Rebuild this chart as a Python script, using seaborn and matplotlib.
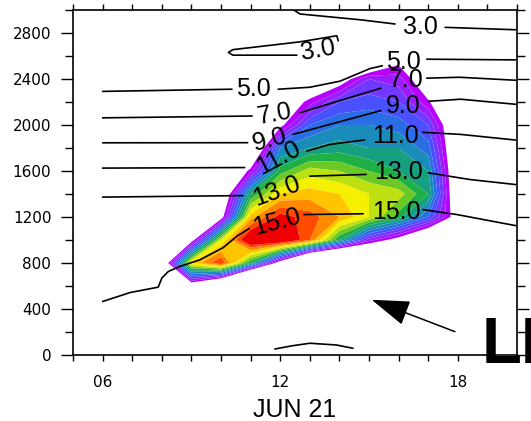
import numpy as np
import pandas as pd
import matplotlib
matplotlib.use('Agg')
import matplotlib.pyplot as plt
from matplotlib.ticker import MultipleLocator, FixedLocator
import seaborn as sns

# ---------------- data ----------------
# shaded field (tracer) on a coarse grid
fill_hours = [8, 9, 10, 11, 12, 13, 14, 15, 16, 17, 18]
fill_heights = [400, 600, 800, 1000, 1200, 1400, 1600, 1800, 2000, 2200, 2400, 2600, 2800]
# rows listed from the top (2800 m) down to 400 m
tracer_rows = [
    [0, 0, 0, 0, 0, 0, 0, 0, 0, 0, 0],                          # 2800
    [0, 0, 0, 0, 0, 0, 0, -4.3, 0, 0, 0],                       # 2600
    [0, 0, 0, 0, 0, -2, -0.3, 3, 2.5, -1, 0],                   # 2400
    [0, 0, 0, 0, -1, 1.5, 4, 4.5, 4, 1.2, -2],                  # 2200
    [0, 0, 0, -2, 0.4, 5, 6, 6, 5.5, 4, -2],                    # 2000
    [0, 0, -2, -3, 6, 7, 7.5, 7, 7, 5.5, -2],                   # 1800
    [0, 0, -3, 1.5, 8.5, 10.5, 10, 9, 8, 7, -1.8],              # 1600
    [0, 0, -2, 8, 12, 12.5, 12, 11, 10.5, 8, -1.7],             # 1400
    [0, -1, 0, 12.5, 15.5, 14.5, 13, 11, 8.5, 5, -0.3],         # 1200
    [-1, 0, 11, 17, 17, 14, 8, 2.5, 0, -3.4, 0],                # 1000
    [-2, 12, 15, 8, -0.5, -9.4, -11, -7.5, -3, -2, 0],          # 800
    [0, -1, -6, -16, -10, -5, -3, -2, 0, 0, 0],                 # 600
    [0, 0, 0, 0, 0, 0, 0, 0, 0, 0, 0],                          # 400
]
fill_levels = list(range(1, 16)) + [40]
fill_colors = ['#b800ff', '#9a1cff', '#7238ff', '#4a50ff', '#2a6ee6', '#1a8cba',
               '#16a080', '#1eb046', '#6cc824', '#bce012', '#f4f000', '#ffc400',
               '#ff8a00', '#ff4a00', '#f00000']

# line contours: segments of (hour, height) for each level
t3_top = [[(12.4, 3010), (12.67, 2965), (14.7, 2915), (15.88, 2878)],
          [(17.57, 2849), (19.95, 2828)]]
t3_loop = [[(12.56, 2607), (10.4, 2607), (10.25, 2631), (10.4, 2655),
            (12.67, 2723), (13.91, 2776), (13.96, 2732)]]
t5 = [[(6.0, 2292), (10.37, 2311)],
      [(11.93, 2311), (13.0, 2328), (14.02, 2381), (15.03, 2490), (15.45, 2515)],
      [(16.95, 2572), (19.95, 2566)]]
t7 = [[(6.0, 2062), (11.05, 2078)],
      [(12.67, 2107), (15.4, 2320)],
      [(16.95, 2407), (18.05, 2415), (19.95, 2389)]]
t9 = [[(6.0, 1845), (10.9, 1846)],
      [(12.43, 1918), (15.4, 2125)],
      [(17.0, 2206), (18.1, 2224), (19.95, 2180)]]
t11 = [[(6.0, 1625), (10.8, 1630)],
       [(12.9, 1773), (13.68, 1831), (14.85, 1870)],
       [(16.82, 1936), (18.1, 1918), (19.95, 1869)]]
t13 = [[(6.0, 1373), (10.75, 1386)],
       [(13.0, 1555), (14.9, 1570)],
       [(17.0, 1584), (18.4, 1526), (19.95, 1482)]]
t15 = [[(6.0, 465), (6.93, 543), (7.88, 590), (8.0, 669), (8.22, 726), (8.61, 770),
        (9.29, 828), (10.07, 933), (10.53, 1032), (10.95, 1100)],
       [(12.8, 1221), (14.8, 1228)],
       [(16.82, 1264), (17.97, 1221), (19.95, 1125)]]
t17 = [[(11.82, 52), (12.4, 80), (13.0, 102), (13.9, 87), (14.46, 58)]]

# contour labels: text, hour, height, rotation
contour_labels = [
    ('3.0', 16.72, 2851, 0), ('3.0', 13.28, 2655, 10),
    ('5.0', 11.08, 2311, 0), ('5.0', 16.15, 2546, 0),
    ('7.0', 11.82, 2093, 10), ('7.0', 16.25, 2389, 0),
    ('9.0', 11.66, 1875, 15), ('9.0', 16.15, 2163, 0),
    ('11.0', 11.93, 1718, 28), ('11.0', 15.91, 1901, 0),
    ('13.0', 11.89, 1425, 20), ('13.0', 16.0, 1587, 0),
    ('15.0', 11.89, 1155, 15), ('15.0', 15.91, 1247, 0),
]

hour_ticks = list(range(5, 21))
hour_labels = ['06' if h == 6 else '12' if h == 12 else '18' if h == 18 else '' for h in hour_ticks]

# ---------------- plot ----------------
sns.set_style('ticks', {'axes.edgecolor': 'black', 'xtick.color': 'black', 'ytick.color': 'black',
                        'text.color': 'black', 'axes.labelcolor': 'black'})
plt.rcParams['font.family'] = ['Liberation Sans', 'DejaVu Sans']

fig = plt.figure(figsize=(5.31, 4.21), dpi=100)
ax = fig.add_axes([0.1375, 0.1568, 0.8362, 0.8195])

H, Z = np.meshgrid(fill_hours, fill_heights)
C = np.array(tracer_rows[::-1], dtype=float)
ax.contourf(H, Z, C, levels=fill_levels, colors=fill_colors, antialiased=True, zorder=1)

rows = []
seg_id = 0
for level, segs in [(3, t3_top), (3, t3_loop), (5, t5), (7, t7), (9, t9),
                    (11, t11), (13, t13), (15, t15), (17, t17)]:
    for seg in segs:
        for h, z in seg:
            rows.append({'hour': h, 'height': z, 'level': level, 'seg': seg_id})
        seg_id += 1
lines = pd.DataFrame(rows)
sns.lineplot(data=lines, x='hour', y='height', units='seg', estimator=None, sort=False,
             color='black', lw=1.2, legend=False, ax=ax, zorder=3)

for txt, h, z, rot in contour_labels:
    ax.text(h, z, txt, ha='center', va='center', rotation=rot, rotation_mode='anchor',
            fontsize=18, color='black', zorder=4)

ax.set_xlim(5, 20)
ax.set_ylim(0, 3000)
ax.xaxis.set_major_locator(FixedLocator(hour_ticks))
ax.set_xticklabels(hour_labels)
ax.yaxis.set_major_locator(MultipleLocator(400))
ax.yaxis.set_minor_locator(MultipleLocator(200))
ax.tick_params(axis='x', which='both', direction='out', length=4.3, width=1, top=True,
               labelsize=11, pad=10, labelfontfamily='DejaVu Sans', labelcolor='black')
ax.tick_params(axis='y', which='major', direction='out', length=8.6, width=1, right=True,
               labelsize=11, pad=7, labelfontfamily='DejaVu Sans', labelcolor='black')
ax.tick_params(axis='y', which='minor', direction='out', length=6, width=1, right=True)
for sp in ax.spines.values():
    sp.set_linewidth(1.2)
    sp.set_color('black')

ax.set_xlabel('JUN 21', fontsize=18, labelpad=6, color='black')
ax.set_ylabel('')

ax.annotate('', xy=(15.09, 480), xytext=(17.9, 203),
            arrowprops=dict(arrowstyle='-|>,head_length=1.2,head_width=0.4', color='black',
                            lw=1.1, mutation_scale=20, shrinkA=0, shrinkB=0),
            annotation_clip=False, zorder=5)
fig.text(0.907, 0.137, 'LE', fontsize=47, fontweight='bold', ha='left', va='baseline',
         color='black')

fig.savefig('out.png', dpi=100)
